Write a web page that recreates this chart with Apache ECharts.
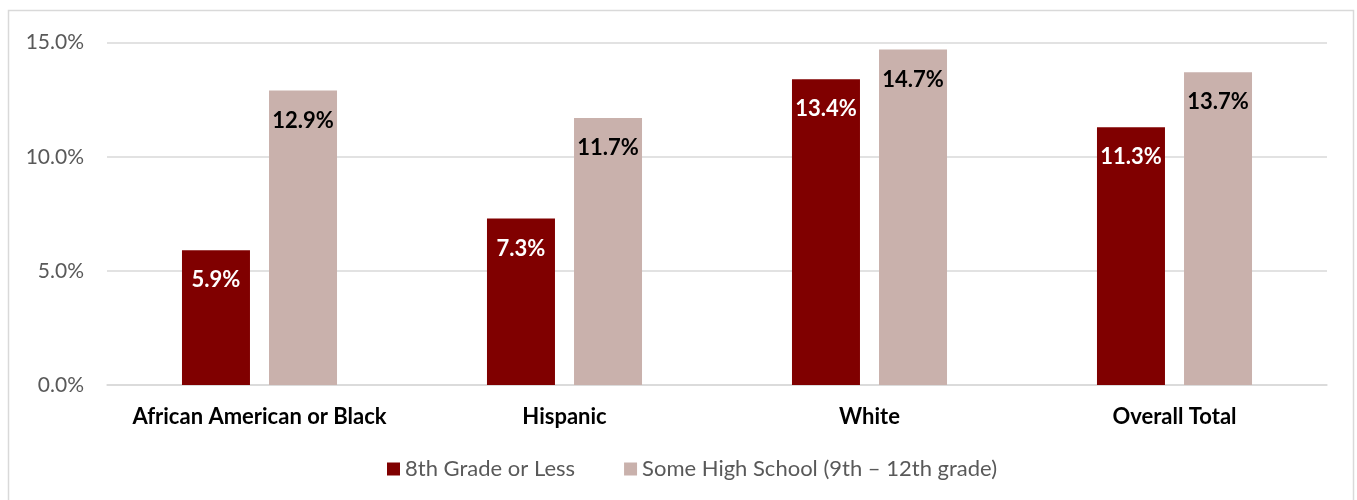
<!DOCTYPE html>
<html>
<head>
<meta charset="utf-8">
<script src="https://cdn.jsdelivr.net/npm/echarts@6/dist/echarts.min.js"></script>
<style>
  html, body { margin: 0; padding: 0; background: #fff; }
  #chart { width: 1357px; height: 500px; }
</style>
</head>
<body>
<div id="chart"></div>
<script>
const categories = ['African American or Black', 'Hispanic', 'White', 'Overall Total'];
const seriesNames = ['8th Grade or Less', 'Some High School (9th \u2013 12th grade)'];
const eighthOrLess = [5.9, 7.3, 13.4, 11.3];
const someHighSchool = [12.9, 11.7, 14.7, 13.7];
const yTicks = [0, 5, 10, 15];

const FONT = 'Lato, "Liberation Sans", sans-serif';

const chart = echarts.init(document.getElementById('chart'), null, { renderer: 'canvas' });

chart.setOption({
  backgroundColor: '#ffffff',
  animation: false,
  textStyle: { fontFamily: FONT },
  graphic: [{
    type: 'rect',
    shape: { x: 8.5, y: 10.5, width: 1345, height: 500 },
    style: { fill: 'none', stroke: '#d9d9d9', lineWidth: 1.5 },
    silent: true
  }],
  grid: { left: 107, right: 30, top: 42.7, bottom: 115 },
  legend: {
    top: 453,
    left: 382,
    itemWidth: 13,
    itemHeight: 13,
    itemGap: 49,
    icon: 'rect',
    textStyle: { fontFamily: FONT, fontSize: 22, color: '#595959' },
    data: seriesNames
  },
  xAxis: {
    type: 'category',
    data: categories,
    axisLine: { lineStyle: { color: '#d9d9d9', width: 1.5 } },
    axisTick: { show: false },
    axisLabel: {
      interval: 0,
      fontFamily: FONT, fontSize: 22, fontWeight: 'bold', color: '#000', margin: 21
    }
  },
  yAxis: {
    type: 'value',
    min: yTicks[0],
    max: yTicks[yTicks.length - 1],
    interval: 5,
    axisLine: { show: false },
    axisTick: { show: false },
    splitLine: { lineStyle: { color: '#d9d9d9', width: 1.5 } },
    axisLabel: {
      fontFamily: FONT, fontSize: 21, color: '#595959', margin: 23,
      formatter: v => v.toFixed(1) + '%'
    }
  },
  series: [
    {
      name: seriesNames[0],
      type: 'bar',
      data: eighthOrLess,
      barWidth: 68,
      barGap: '28%',
      itemStyle: { color: '#800000' },
      label: {
        show: true, position: 'insideTop', distance: 19,
        fontFamily: FONT, fontSize: 22, fontWeight: 'bold', color: '#ffffff',
        formatter: p => p.value.toFixed(1) + '%'
      }
    },
    {
      name: seriesNames[1],
      type: 'bar',
      data: someHighSchool,
      barWidth: 68,
      barGap: '28%',
      itemStyle: { color: '#c9b1ac' },
      label: {
        show: true, position: 'insideTop', distance: 19,
        fontFamily: FONT, fontSize: 22, fontWeight: 'bold', color: '#000000',
        formatter: p => p.value.toFixed(1) + '%'
      }
    }
  ]
});
</script>
</body>
</html>
